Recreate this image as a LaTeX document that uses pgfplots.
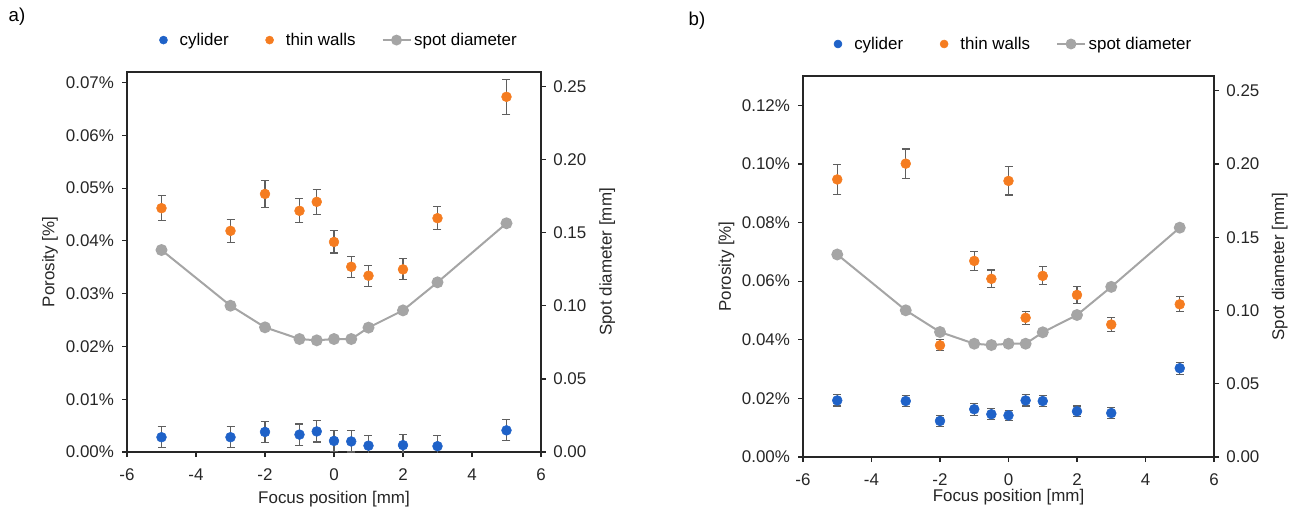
\documentclass[border=0pt]{standalone}
\usepackage{pgfplots}
\pgfplotsset{compat=1.18}
\usepackage{pgfplotstable}
\usepackage{fontspec}
\setmainfont{Liberation Sans}
\definecolor{cblue}{HTML}{1F62C8}
\definecolor{corange}{HTML}{F57C20}
\definecolor{cgray}{HTML}{A5A5A5}
\definecolor{errgray}{HTML}{5F5F5F}
\definecolor{axgray}{HTML}{262626}
\newcommand\fs{\fontsize{12.7}{14}\selectfont}

\pgfplotstableread{
x y e
-5 0.0028 0.0020
-3 0.0028 0.0020
-2 0.0038 0.0020
-1 0.0033 0.0020
-0.5 0.0039 0.0020
0 0.0021 0.0020
0.5 0.0020 0.0020
1 0.0012 0.0020
2 0.0013 0.0020
3 0.0011 0.0020
5 0.0041 0.0020
}\cylA
\pgfplotstableread{
x y e
-5 0.0462 0.0024
-3 0.0419 0.0022
-2 0.0489 0.0025
-1 0.0457 0.0023
-0.5 0.0474 0.0024
0 0.0398 0.0021
0.5 0.0351 0.0020
1 0.0334 0.0020
2 0.0346 0.0020
3 0.0443 0.0022
5 0.0673 0.0033
}\thinA
\pgfplotstableread{
x y
-5 0.1382
-3 0.1001
-2 0.0853
-1 0.0773
-0.5 0.0764
0 0.0773
0.5 0.0773
1 0.0851
2 0.0969
3 0.1161
5 0.1565
}\spot
\pgfplotstableread{
x y e
-5 0.0193 0.0019
-3 0.0191 0.0019
-2 0.0123 0.0020
-1 0.0163 0.0020
-0.5 0.0146 0.0018
0 0.0142 0.0018
0.5 0.0193 0.0019
1 0.0191 0.0019
2 0.0156 0.0018
3 0.0150 0.0018
5 0.0303 0.0020
}\cylB
\pgfplotstableread{
x y e
-5 0.0947 0.0050
-3 0.1001 0.0050
-2 0.0381 0.0019
-1 0.0669 0.0033
-0.5 0.0608 0.0030
0 0.0942 0.0048
0.5 0.0475 0.0023
1 0.0618 0.0031
2 0.0553 0.0028
3 0.0452 0.0023
5 0.0521 0.0026
}\thinB

\pgfplotsset{
  base/.style={
    scale only axis,
    xmin=-6, xmax=6,
    tick align=outside,
    major tick length=3.75pt,
    axis line style={axgray, line width=0.9pt},
    every tick/.style={axgray, line width=0.9pt},
    ticklabel style={font=\fs, text=black!85},
    label style={font=\fs, text=black!85},
    scaled y ticks=false,
  },
  left/.style={
    base,
    xtick={-6,-4,-2,0,2,4,6},
    xticklabels={-6,-4,-2,0,2,4,6},
    xtick pos=bottom, ytick pos=left,
    xticklabel style={yshift=-5pt},
    yticklabel style={xshift=-2.5pt},
    xlabel={Focus position [mm]},
    ylabel={Porosity [\%]},
    xlabel style={at={(axis description cs:0.5,-0.124)}, anchor=center},
    ylabel style={at={(axis description cs:-0.186,0.5)}, anchor=center, rotate=0},
    legend style={at={(0.5,1.084)}, anchor=center, legend columns=3, draw=none, fill=none, font=\fs,
      /tikz/every even column/.append style={column sep=17.5pt}},
  },
  right/.style={
    base,
    axis x line=none,
    axis y line*=right,
    ymin=0, ymax=0.26,
    ytick={0,0.05,0.1,0.15,0.2,0.25},
    yticklabels={0.00,0.05,0.10,0.15,0.20,0.25},
    yticklabel style={xshift=2pt},
    ylabel={Spot diameter [mm]},
    ylabel style={at={(axis description cs:1.16,0.5)}, anchor=center},
  },
  scatleg/.style={legend image code/.code={\path (0pt,0pt) (21pt,0pt); \draw[##1, mark size=3pt] plot coordinates {(11pt,0pt)};}},
  scat/.style={only marks, mark=*, mark size=3.7pt, mark options={draw=#1, fill=#1}, color=#1, scatleg,
    error bars/.cd, y dir=both, y explicit,
    error bar style={errgray, line width=0.8pt},
    error mark options={rotate=90, mark size=3pt, errgray, line width=0.8pt}},
  spotstyle/.style={cgray, line width=1.5pt, mark=*, mark size=3.7pt, mark options={draw=cgray, fill=cgray}},
  spotleg/.style={legend image code/.code={\draw[##1, mark size=3.3pt, mark repeat=2, mark phase=2] plot coordinates {(0pt,0pt) (10.5pt,0pt) (21pt,0pt)};}},
}

\begin{document}
\begin{tikzpicture}
\useasboundingbox (0,0) rectangle (971.25pt,381pt);
\node[font=\fontsize{14}{16}\selectfont] at (12.75pt,368.25pt) {a)};
\node[font=\fontsize{14}{16}\selectfont] at (522.75pt,365.25pt) {b)};

% Panel a
\begin{axis}[left, at={(95.25pt,42pt)}, anchor=south west, width=310.5pt, height=285pt,
  ymin=0, ymax=0.072,
  ytick={0,0.01,0.02,0.03,0.04,0.05,0.06,0.07},
  yticklabels={0.00\%,0.01\%,0.02\%,0.03\%,0.04\%,0.05\%,0.06\%,0.07\%}]
\addplot[scat=cblue] table[x=x, y=y, y error=e] {\cylA};
\addlegendentry{cylider}
\addplot[scat=corange] table[x=x, y=y, y error=e] {\thinA};
\addlegendentry{thin walls}
\addlegendimage{spotstyle, spotleg}
\addlegendentry{spot diameter}
\end{axis}
\begin{axis}[right, at={(95.25pt,42pt)}, anchor=south west, width=310.5pt, height=285pt]
\addplot[spotstyle] table[x=x, y=y] {\spot};
\end{axis}

% Panel b
\begin{axis}[left, at={(602.25pt,38.25pt)}, anchor=south west, width=308.25pt, height=285.75pt,
  xlabel style={at={(axis description cs:0.5,-0.104)}, anchor=center},
  ymin=0, ymax=0.13,
  ytick={0,0.02,0.04,0.06,0.08,0.1,0.12},
  yticklabels={0.00\%,0.02\%,0.04\%,0.06\%,0.08\%,0.10\%,0.12\%}]
\addplot[scat=cblue] table[x=x, y=y, y error=e] {\cylB};
\addlegendentry{cylider}
\addplot[scat=corange] table[x=x, y=y, y error=e] {\thinB};
\addlegendentry{thin walls}
\addlegendimage{spotstyle, spotleg}
\addlegendentry{spot diameter}
\end{axis}
\begin{axis}[right, at={(602.25pt,38.25pt)}, anchor=south west, width=308.25pt, height=285.75pt]
\addplot[spotstyle] table[x=x, y=y] {\spot};
\end{axis}
\end{tikzpicture}
\end{document}
